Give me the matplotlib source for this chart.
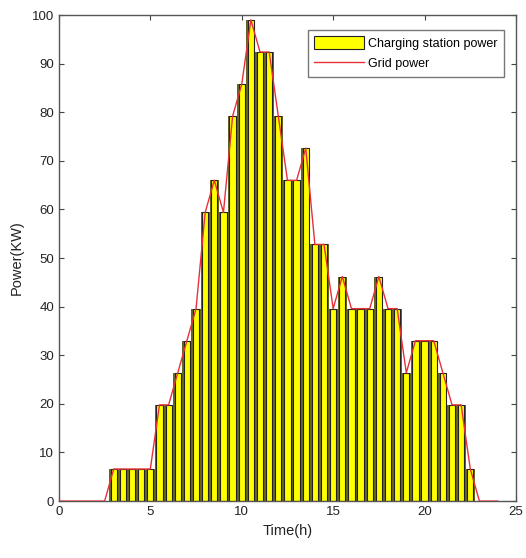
import numpy as np
import matplotlib
matplotlib.use("Agg")
import matplotlib.pyplot as plt

plt.rcParams["font.family"] = ["Liberation Sans", "DejaVu Sans"]

# half-hour slots with charging load (kW)
bar_times = np.arange(3.0, 23.0, 0.5)
bar_power = [6.6, 6.6, 6.6, 6.6, 6.6, 19.8, 19.8, 26.4, 33.0, 39.6,
             59.4, 66.0, 59.4, 79.2, 85.8, 99.0, 92.4, 92.4, 79.2, 66.0,
             66.0, 72.6, 52.8, 52.8, 39.6, 46.2, 39.6, 39.6, 39.6, 46.2,
             39.6, 39.6, 26.4, 33.0, 33.0, 33.0, 26.4, 19.8, 19.8, 6.6]

# grid power sampled every half hour over the whole day
grid_times = np.arange(0.0, 24.5, 0.5)
grid_power = [0.0, 0.0, 0.0, 0.0, 0.0, 0.0] + bar_power + [0.0, 0.0, 0.0]

fig = plt.figure(figsize=(5.26, 5.58), dpi=100)
ax = fig.add_axes([0.112, 0.102, 0.869, 0.871])

# dark olive under-layer shows between the bars, like the blurred original
ax.bar(bar_times, bar_power, width=0.5, color="#66662a", linewidth=0, zorder=1)
bars = ax.bar(bar_times, bar_power, width=0.34, color="#ffff00",
              edgecolor="#222222", linewidth=0.8, zorder=2)
line, = ax.plot(grid_times, grid_power, color="#e8303a", linewidth=1.0, zorder=3)

ax.set_xlim(0, 25)
ax.set_ylim(0, 100)
ax.set_xticks(np.arange(0, 26, 5))
ax.set_yticks(np.arange(0, 101, 10))
ax.tick_params(direction="in", top=True, right=True, labelsize=9.5,
               length=3.5, color="#444444", labelcolor="#222222")
for s in ax.spines.values():
    s.set_edgecolor("#555555")
    s.set_linewidth(1.0)

ax.set_xlabel("Time(h)", fontsize=10.5, color="#222222", labelpad=4)
ax.set_ylabel("Power(KW)", fontsize=10.5, color="#222222", labelpad=6)

leg = ax.legend([bars, line], ["Charging station power", "Grid power"],
                loc="upper right", fontsize=9, frameon=True, fancybox=False,
                handlelength=4.0, handleheight=1.2, borderpad=0.5,
                labelspacing=0.55, handletextpad=0.3,
                bbox_to_anchor=(0.987, 0.982), edgecolor="#555555")
leg.get_frame().set_linewidth(1.0)

fig.savefig("out.png", dpi=100, facecolor="white")
